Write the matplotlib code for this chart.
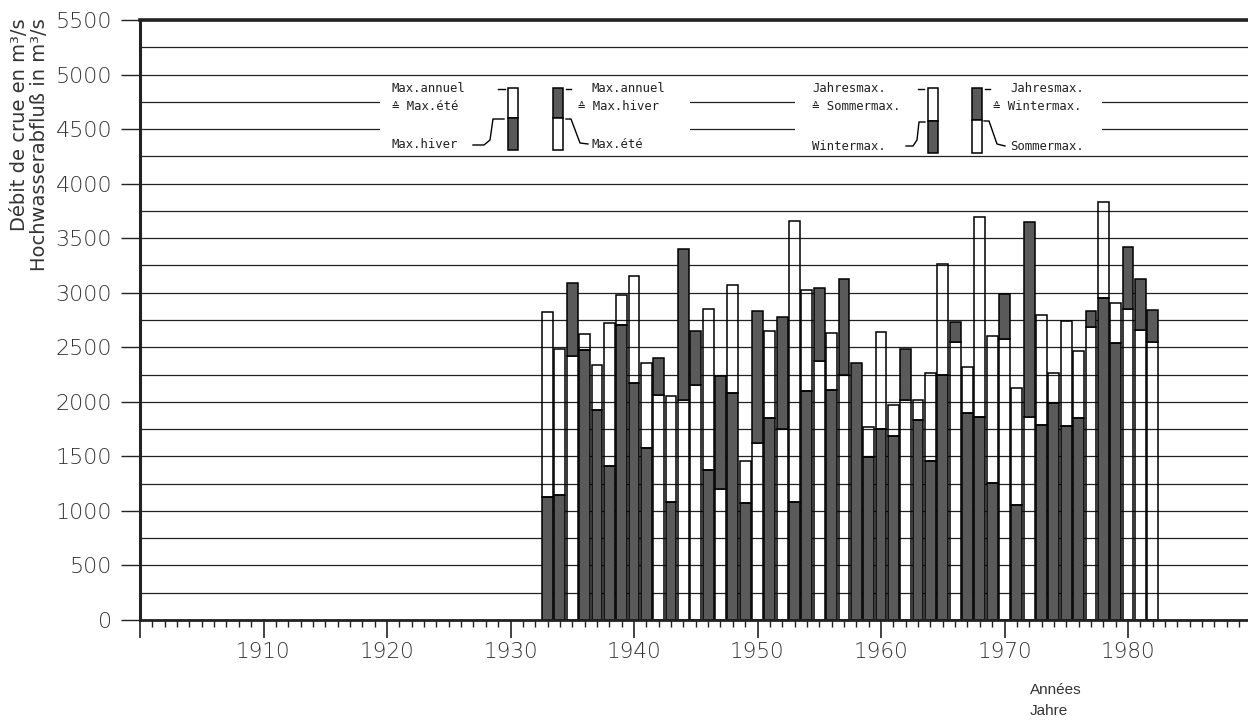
# -*- coding: utf-8 -*-
"""Hochwasserabfluss: Jahresmaxima mit Sommer-/Wintermax. (1933-1982)"""

import numpy as np
from matplotlib import pyplot as plt
from matplotlib.patches import Rectangle
from matplotlib.lines import Line2D

years = list(range(1933, 1983))
# summer max (Max.été / Sommermax.), m3/s
summer_max = [2820, 2480, 2420, 2620, 2335, 2720, 2980, 3150, 2360, 2060,
              2050, 2015, 2155, 2855, 1205, 3070, 1460, 1620, 2645, 1755,
              3655, 3025, 2370, 2630, 2245, np.nan, 1765, 2640, 1970, 2015,
              2015, 2265, 3260, 2550, 2320, 3690, 2605, 2580, 2125, 1865,
              2795, 2260, 2740, 2465, 2690, 3835, 2910, 2855, 2660, 2550]
# winter max (Max.hiver / Wintermax.), m3/s
winter_max = [1130, 1150, 3085, 2475, 1925, 1410, 2705, 2170, 1575, 2400,
              1085, 3405, 2645, 1375, 2235, 2085, 1070, 2835, 1850, 2775,
              1085, 2095, 3040, 2110, 3130, 2355, 1490, 1755, 1690, 2480,
              1835, 1460, 2245, 2735, 1895, 1865, 1260, 2990, 1055, 3650,
              1790, 1990, 1780, 1850, 2830, 2950, 2535, 3420, 3130, 2840]

decades = [1910, 1920, 1930, 1940, 1950, 1960, 1970, 1980]

DARK = '#5a5a5a'
INK = '#222222'

W, H = 1248, 728
AX_L, AX_R, AX_T, AX_B = 140, 1251.5, 20, 620

fig = plt.figure(figsize=(W / 100, H / 100), dpi=100)
ax = fig.add_axes([AX_L / W, 1 - AX_B / H, (AX_R - AX_L) / W, (AX_B - AX_T) / H])


def pos(x, y):
    """pixel position in the picture -> axes fraction"""
    return (x - AX_L) / (AX_R - AX_L), (AX_B - y) / (AX_B - AX_T)


s = np.array(summer_max, dtype=float)
w = np.array(winter_max, dtype=float)
s_filled = np.nan_to_num(s)
lower = np.minimum(s_filled, w)
upper = np.maximum(s_filled, w)
low_col = ['none' if sv <= wv else DARK for sv, wv in zip(s_filled, w)]
up_col = [DARK if wv >= sv else 'none' for sv, wv in zip(s_filled, w)]

ax.bar(years, lower, width=0.88, color=low_col, edgecolor='black', linewidth=1.1, zorder=2)
ax.bar(years, upper - lower, bottom=lower, width=0.88, color=up_col,
       edgecolor='black', linewidth=1.1, zorder=2)

# axes & grid
ax.set_xlim(1900, 1990)
ax.set_ylim(0, 5500)
ax.set_yticks(range(0, 5501, 500))
ax.set_yticks(range(250, 5500, 500), minor=True)
ax.set_xticks([1900] + decades)
ax.set_xticklabels([''] + [str(d) for d in decades])
ax.set_xticks(range(1900, 1991), minor=True)
ax.set_axisbelow(True)
ax.yaxis.grid(True, which='both', color=INK, linewidth=0.9)
ax.tick_params(axis='y', which='major', length=14, width=1, color=INK, pad=6,
               labelsize=16, labelcolor='#333333')
ax.tick_params(axis='y', which='minor', length=0)
ax.tick_params(axis='x', which='major', length=13, width=1.2, color=INK, pad=3,
               labelsize=15.5, labelcolor='#333333')
ax.tick_params(axis='x', which='minor', length=5, width=1, color=INK)
for lab in ax.get_xticklabels() + ax.get_yticklabels():
    lab.set_fontweight('light')
ax.spines['right'].set_visible(False)
ax.spines['left'].set_linewidth(2.2)
ax.spines['bottom'].set_linewidth(2.0)
ax.spines['top'].set_linewidth(2.6)
for sp in ax.spines.values():
    sp.set_color(INK)

# legend boxes (mask the 4750 / 4500 gridlines)
for x0, x1 in [(380, 690), (795, 1102)]:
    bx, by = pos(x0, 150)
    bx1, by1 = pos(x1, 84)
    ax.add_patch(Rectangle((bx, by), bx1 - bx, by1 - by, transform=ax.transAxes,
                           facecolor='white', edgecolor='none', zorder=1))

mono = dict(family=['DejaVu Sans Mono', 'DejaVu Sans'], fontsize=8.8, color='#222222',
            va='center', ha='left', transform=ax.transAxes, zorder=4)


def legend_bar(x0, x1, ytop, ysplit, ybot, top_dark):
    for ya, yb, dark in [(ytop, ysplit, top_dark), (ysplit, ybot, not top_dark)]:
        (ax0, ay0), (ax1, ay1) = pos(x0, yb), pos(x1, ya)
        ax.add_patch(Rectangle((ax0, ay0), ax1 - ax0, ay1 - ay0, transform=ax.transAxes,
                               facecolor=DARK if dark else 'white', edgecolor='black',
                               linewidth=1.1, zorder=4))


def leader(points):
    xs, ys = zip(*[pos(*p) for p in points])
    ax.add_line(Line2D(xs, ys, transform=ax.transAxes, color='black', lw=1, zorder=4))


# french
ax.text(*pos(392, 89), 'Max.annuel', **mono)
ax.text(*pos(392, 107), '≙ Max.été', **mono)
ax.text(*pos(392, 144), 'Max.hiver', **mono)
leader([(498, 89), (505, 89)])
leader([(473, 145), (484, 145), (490, 140), (493, 119), (504, 119)])
legend_bar(508, 518, 88, 118, 150, top_dark=False)
legend_bar(553, 563, 88, 118, 150, top_dark=True)
leader([(566, 89), (571, 89)])
ax.text(*pos(592, 89), 'Max.annuel', **mono)
ax.text(*pos(578, 107), '≙ Max.hiver', **mono)
leader([(566, 119), (571, 119), (580, 143), (588, 144)])
ax.text(*pos(592, 144), 'Max.été', **mono)

# german
ax.text(*pos(812, 89), 'Jahresmax.', **mono)
ax.text(*pos(812, 107), '≙ Sommermax.', **mono)
ax.text(*pos(812, 146), 'Wintermax.', **mono)
leader([(918, 89), (924, 89)])
leader([(906, 146), (913, 146), (917, 140), (919, 122), (925, 122)])
legend_bar(928, 938, 88, 121, 153, top_dark=False)
legend_bar(972, 982, 88, 120, 153, top_dark=True)
leader([(985, 89), (990, 89)])
ax.text(*pos(1010, 89), 'Jahresmax.', **mono)
ax.text(*pos(993, 107), '≙ Wintermax.', **mono)
leader([(984, 121), (989, 121), (997, 144), (1005, 146)])
ax.text(*pos(1010, 146), 'Sommermax.', **mono)

# axis titles
narrow = ['Liberation Sans Narrow', 'DejaVu Sans']
fig.text(20 / W, 1 - 18 / H, 'Débit de crue en m³/s', rotation=90, ha='center', va='top',
         family=narrow, fontsize=14, color='#333333')
fig.text(40 / W, 1 - 18 / H, 'Hochwasserabfluß in m³/s', rotation=90, ha='center', va='top',
         family=narrow, fontsize=14, color='#333333')
fig.text(1030 / W, 1 - 690 / H, 'Années', ha='left', va='center',
         family=['Liberation Sans', 'DejaVu Sans'], fontsize=11, color='#333333')
fig.text(1030 / W, 1 - 711 / H, 'Jahre', ha='left', va='center',
         family=['Liberation Sans', 'DejaVu Sans'], fontsize=11, color='#333333')

fig.savefig('out.png', dpi=100)
